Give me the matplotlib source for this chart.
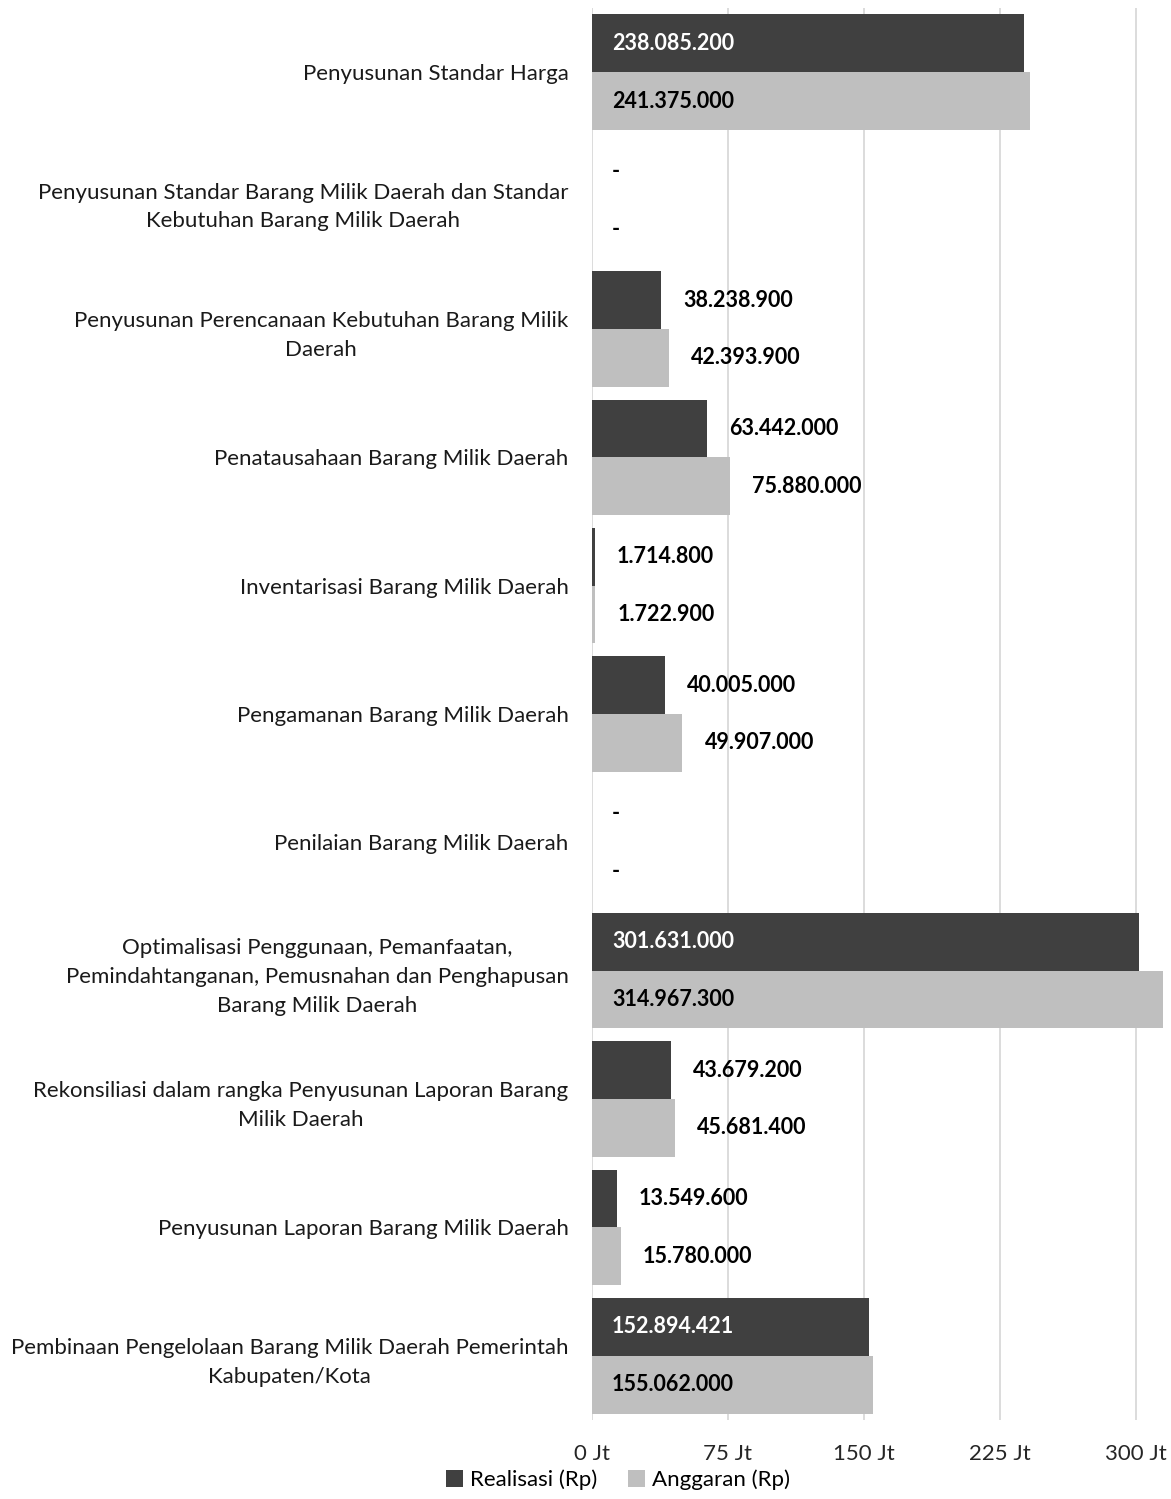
import numpy as np
import matplotlib.pyplot as plt
from matplotlib.ticker import FuncFormatter

plt.rcParams['font.family'] = ['Lato', 'DejaVu Sans']

categories = [
    "Penyusunan Standar Harga",
    "Penyusunan Standar Barang Milik Daerah dan Standar\nKebutuhan Barang Milik Daerah",
    "Penyusunan Perencanaan Kebutuhan Barang Milik\nDaerah",
    "Penatausahaan Barang Milik Daerah",
    "Inventarisasi Barang Milik Daerah",
    "Pengamanan Barang Milik Daerah",
    "Penilaian Barang Milik Daerah",
    "Optimalisasi Penggunaan, Pemanfaatan,\nPemindahtanganan, Pemusnahan dan Penghapusan\nBarang Milik Daerah",
    "Rekonsiliasi dalam rangka Penyusunan Laporan Barang\nMilik Daerah",
    "Penyusunan Laporan Barang Milik Daerah",
    "Pembinaan Pengelolaan Barang Milik Daerah Pemerintah\nKabupaten/Kota",
]
realisasi = [238085200, 0, 38238900, 63442000, 1714800, 40005000, 0,
             301631000, 43679200, 13549600, 152894421]
anggaran = [241375000, 0, 42393900, 75880000, 1722900, 49907000, 0,
            314967300, 45681400, 15780000, 155062000]
xticks = [0, 75e6, 150e6, 225e6, 300e6]

DARK = "#404040"
LIGHT = "#bfbfbf"


def fmt_rp(v):
    if v == 0:
        return "-"
    return f"{v:,.0f}".replace(",", ".")


fig = plt.figure(figsize=(11.71, 14.99), dpi=100)
ax = fig.add_axes([592 / 1171, 1 - 1420 / 1499, (1163 - 592) / 1171, (1420 - 8) / 1499])

y = np.arange(len(categories))
h = 0.45
ax.barh(y - h / 2, realisasi, height=h, color=DARK, label="Realisasi (Rp)", zorder=2)
ax.barh(y + h / 2, anggaran, height=h, color=LIGHT, label="Anggaran (Rp)", zorder=2)

ax.set_xlim(0, 315e6)
ax.set_ylim(len(categories) - 0.5, -0.5)
ax.set_xticks(xticks)
ax.xaxis.set_major_formatter(FuncFormatter(lambda v, p: f"{v / 1e6:.0f} Jt"))
ax.set_yticks(y)
ax.set_yticklabels(categories, fontsize=16, color="#1a1a1a", linespacing=1.55)
ax.tick_params(axis="y", length=0, pad=17)
ax.tick_params(axis="x", length=0, pad=17, labelsize=16, colors="#262626")
for lbl in ax.get_yticklabels():
    lbl.set_multialignment("center")
ax.grid(axis="x", color="#d9d9d9", linewidth=1.3, zorder=0)
ax.set_axisbelow(True)
for s in ax.spines.values():
    s.set_visible(False)

# data labels
px = 315e6 / (1163 - 592)
for vals, off, col_in in [(realisasi, -h / 2, "white"), (anggaran, h / 2, "black")]:
    for i, v in enumerate(vals):
        if v > 100e6:
            ax.text(20 * px, i + off, fmt_rp(v), va="center", ha="left",
                    fontsize=15.5, fontweight="bold", color=col_in)
        elif v == 0:
            ax.text(24 * px, i + off, "-", va="center", ha="center",
                    fontsize=15.5, fontweight="bold", color="black")
        else:
            ax.text(v + 22 * px, i + off, fmt_rp(v), va="center", ha="left",
                    fontsize=15.5, fontweight="bold", color="black")

fig.legend(loc="center", bbox_to_anchor=(618 / 1171, 1 - 1480 / 1499), ncol=2, frameon=False,
           fontsize=16, handlelength=0.75, handleheight=0.75, handletextpad=0.3,
           columnspacing=1.4, borderaxespad=0.0, borderpad=0.0)

fig.savefig("out.png", dpi=100)
